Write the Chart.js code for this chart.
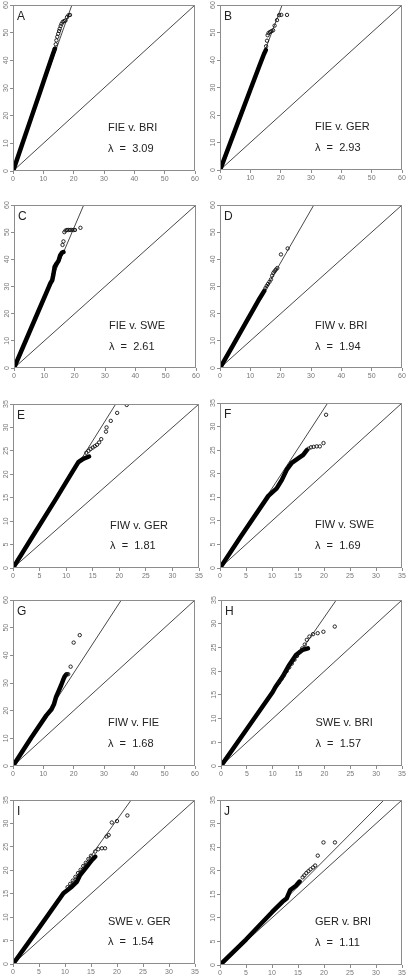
<!DOCTYPE html>
<html><head><meta charset="utf-8">
<script src="https://cdn.jsdelivr.net/npm/chart.js@4.4.1/dist/chart.umd.min.js"></script>
<style>
html,body{margin:0;padding:0;background:#fff;}
body{width:406px;height:976px;position:relative;overflow:hidden;}
canvas{position:absolute;}
</style></head><body>
<script>
// ---------- data ----------
const panelLetters = ['A','B','C','D','E','F','G','H','I','J'];
const comparisons = ['FIE v. BRI','FIE v. GER','FIE v. SWE','FIW v. BRI','FIW v. GER','FIW v. SWE','FIW v. FIE','SWE v. BRI','SWE v. GER','GER v. BRI'];
const lambdas = [3.09, 2.93, 2.61, 1.94, 1.81, 1.69, 1.68, 1.57, 1.54, 1.11];
const axisMax = [60, 60, 60, 60, 35, 35, 60, 35, 35, 35];
const tickStep = [10, 10, 10, 10, 5, 5, 10, 5, 5, 5];

// dense part of each QQ plot (drawn as a thick band)
const bandA = [[0,0],[0.5,1.5],[3,9.6],[6,19.2],[9,28.8],[11,35.3],[13.2,42.4],[13.8,44.2]];
const bandB = [[0,0],[0.5,1.4],[5,14.6],[10,29.2],[13,37.9],[14.5,42.2],[15.1,43.6]];
const bandC = [[0,0],[4,10.4],[8,20.8],[11,28.6],[12,31.2],[12.6,32.3],[13,34.5],[13.4,37.2],[14,38.4],[14.7,39.5],[15.2,41.4],[15.8,42.4],[16.3,42.7]];
const bandD = [[0,0],[4,7.8],[8,15.7],[11,21.6],[13,25.5],[14.6,28.4]];
const bandE = [[0,0],[4,7.3],[8,14.6],[11,20.2],[12.3,22.6],[13.2,23.3],[14.3,23.8]];
const bandF = [[0,0],[4,6.7],[9.3,15.3],[10.9,16.9],[11.9,18.7],[12.8,20.8],[13.8,22.3],[15.1,23.3],[16.0,24.0],[16.7,25.0]];
const bandG = [[0,0],[6,10.2],[11,18.3],[12.7,20.5],[13.5,22.3],[14.2,25.0],[15,27.0],[15.8,29.0],[16.5,31.0],[17,32.3],[17.5,33.0]];
const bandH = [[0,0],[5,7.8],[10,15.6],[10.5,16.6],[11.9,18.8],[13.2,21.3],[14.5,23.4],[15.8,24.5],[16.8,24.8]];
const bandI = [[0,0],[5,7.7],[9.7,15.1],[11.3,16.5],[12.3,17.6],[12.9,19.0],[14.2,20.8],[15.2,22.2],[15.8,22.9]];
const bandJ = [[0,0],[5,5.4],[10,11.2],[12,13.4],[12.8,14.1],[13.5,15.9],[14.6,16.8],[15.3,17.7]];

// sparse points (drawn as open circles)
const tailA = [[13.8,44.2],[14.1,45.8],[14.3,47.2],[14.6,48.5],[14.9,49.6],[15.2,50.6],[15.4,51.4],[15.7,52.4],[16.0,53.2],[16.4,53.9],[16.9,54.2],[17.3,54.4],[17.8,55.6],[18.3,56.3],[18.8,56.4]];
const tailB = [[15.2,45.0],[15.5,47.0],[15.7,49.0],[16.0,49.8],[16.5,50.2],[17.0,50.5],[17.5,50.8],[18.0,52.5],[18.8,54.5],[19.5,56.3],[20.2,56.4],[22.1,56.4]];
const tailC = [[16.0,45.3],[16.3,46.6],[16.6,50.0],[17.0,50.6],[17.5,50.8],[18.0,50.8],[18.5,50.8],[19.0,50.8],[19.6,50.8],[20.1,50.8],[21.9,51.6]];
const tailD = [[15.0,29.4],[15.4,30.2],[15.8,30.9],[16.3,31.7],[16.8,32.6],[17.2,34.0],[17.6,35.0],[18.0,35.6],[18.4,36.2],[18.9,36.8],[20.1,41.8],[22.3,44.0]];
const tailE = [[13.8,24.6],[14.2,25.0],[14.6,25.4],[15.0,25.7],[15.4,26.0],[15.8,26.3],[16.2,26.8],[16.6,27.5],[17.5,29.1],[17.6,30.0],[18.4,31.4],[19.6,33.1],[21.4,34.8]];
const tailF = [[17.0,25.3],[17.5,25.6],[18.0,25.7],[18.6,25.8],[19.2,25.8],[19.9,26.5],[20.4,32.5]];
const tailG = [[17.8,33.2],[18.2,33.2],[19.0,35.9],[20.0,44.6],[22.0,47.3]];
const tailH = [[11.2,17.6],[11.7,18.4],[12.2,19.2],[12.7,20.0],[13.2,20.8],[13.7,21.6],[14.2,22.4],[14.7,23.2],[15.2,24.0],[15.7,24.8],[16.2,25.6],[16.6,26.6],[17.1,27.3],[17.8,27.8],[18.7,28.0],[19.8,28.3],[22.0,29.4]];
const tailI = [[10.5,16.4],[11.0,17.1],[11.5,17.8],[12.0,18.6],[12.5,19.4],[13.0,20.1],[13.5,20.9],[14.0,21.6],[14.5,22.4],[15.0,23.1],[15.8,24.0],[16.4,24.5],[17.1,24.7],[17.7,24.7],[18.0,27.2],[18.4,27.5],[19.0,30.2],[20.0,30.5],[22.0,31.7]];
const tailJ = [[15.9,18.6],[16.2,19.0],[16.6,19.5],[17.0,19.9],[17.4,20.3],[17.9,20.7],[18.3,21.1],[18.8,23.2],[19.9,26.0],[22.1,26.0]];

const bands = [bandA,bandB,bandC,bandD,bandE,bandF,bandG,bandH,bandI,bandJ];
const tails = [tailA,tailB,tailC,tailD,tailE,tailF,tailG,tailH,tailI,tailJ];

// ---------- layout (plot box in page pixels: left, top, right, bottom) ----------
const boxes = [
  [13,5,195,171],[220,5,402,170],
  [14,205,196,368],[220,205,402,368],
  [13,404,199,568],[220,403,402,568],
  [13,600,195,766],[221,600,402,766],
  [13,800,195,964],[220,800,402,965]
];
const PADL = 13, PADT = 5, PADR = 5, PADB = 16;
const FONT = "'Liberation Sans', Arial, Helvetica, sans-serif";
Chart.defaults.font.family = FONT;

const panelPlugin = {
  id: 'panelDecor',
  afterDraw(chart) {
    const o = chart.options.plugins.panelDecor;
    const {ctx, chartArea: a} = chart;
    const w = a.right - a.left, h = a.bottom - a.top;
    ctx.save();
    ctx.strokeStyle = '#8c8c8c';
    ctx.lineWidth = 1;
    ctx.strokeRect(Math.round(a.left) + 0.5, Math.round(a.top) + 0.5, Math.round(w) - 1, Math.round(h) - 1);
    ctx.fillStyle = '#222';
    ctx.textBaseline = 'alphabetic';
    ctx.textAlign = 'left';
    ctx.font = '12px ' + FONT;
    ctx.fillText(o.letter, a.left + 4, a.top + 14.5);
    ctx.font = '11px ' + FONT;
    ctx.fillText(o.name, a.left + 0.522 * w, a.bottom - 0.24 * h);
    ctx.fillText('\u03bb  =  ' + o.lambda.toFixed(2), a.left + 0.522 * w, a.bottom - 0.113 * h);
    ctx.restore();
  }
};

function axisOpts(max, step, isY) {
  return {
    type: 'linear', min: 0, max: max,
    border: { display: false },
    grid: { display: true, drawOnChartArea: false, drawTicks: true, tickLength: 3, color: '#8c8c8c', lineWidth: 1 },
    ticks: {
      stepSize: step, autoSkip: false, color: '#777',
      font: { size: 7, family: FONT },
      padding: isY ? 0 : 1,
      minRotation: isY ? 90 : 0, maxRotation: isY ? 90 : 0,
      crossAlign: isY ? 'center' : 'near'
    },
    afterFit(s) { if (isY) s.width = PADL; else s.height = PADB; }
  };
}

for (let i = 0; i < 10; i++) {
  const [bx0, by0, bx1, by1] = boxes[i];
  const cv = document.createElement('canvas');
  const W = bx1 - bx0 + PADL + PADR, H = by1 - by0 + PADT + PADB;
  cv.width = W; cv.height = H;
  cv.style.left = (bx0 - PADL) + 'px';
  cv.style.top = (by0 - PADT) + 'px';
  cv.style.width = W + 'px'; cv.style.height = H + 'px';
  document.body.appendChild(cv);
  const m = axisMax[i], lam = lambdas[i];
  const toXY = p => ({x: p[0], y: p[1]});
  new Chart(cv, {
    type: 'scatter',
    data: {
      datasets: [
        { data: tails[i].map(toXY), showLine: false, pointRadius: 1.7, pointBorderWidth: 0.9,
          pointBorderColor: '#111', pointBackgroundColor: 'rgba(0,0,0,0)', pointStyle: 'circle' },
        { data: bands[i].map(toXY), showLine: true, pointRadius: 0, borderWidth: 4.5, borderColor: '#000',
          borderCapStyle: 'round', borderJoinStyle: 'round', tension: 0 },
        { data: [{x:0,y:0},{x:m/lam,y:m}], showLine: true, pointRadius: 0, borderWidth: 0.9, borderColor: '#333' },
        { data: [{x:0,y:0},{x:m,y:m}], showLine: true, pointRadius: 0, borderWidth: 0.9, borderColor: '#333' }
      ]
    },
    options: {
      responsive: false, animation: false, events: [],
      layout: { padding: { top: PADT, right: PADR, left: 0, bottom: 0 } },
      scales: { x: axisOpts(m, tickStep[i], false), y: axisOpts(m, tickStep[i], true) },
      plugins: {
        legend: { display: false }, tooltip: { enabled: false },
        panelDecor: { letter: panelLetters[i], name: comparisons[i], lambda: lam }
      }
    },
    plugins: [panelPlugin]
  });
}
</script>
</body></html>
